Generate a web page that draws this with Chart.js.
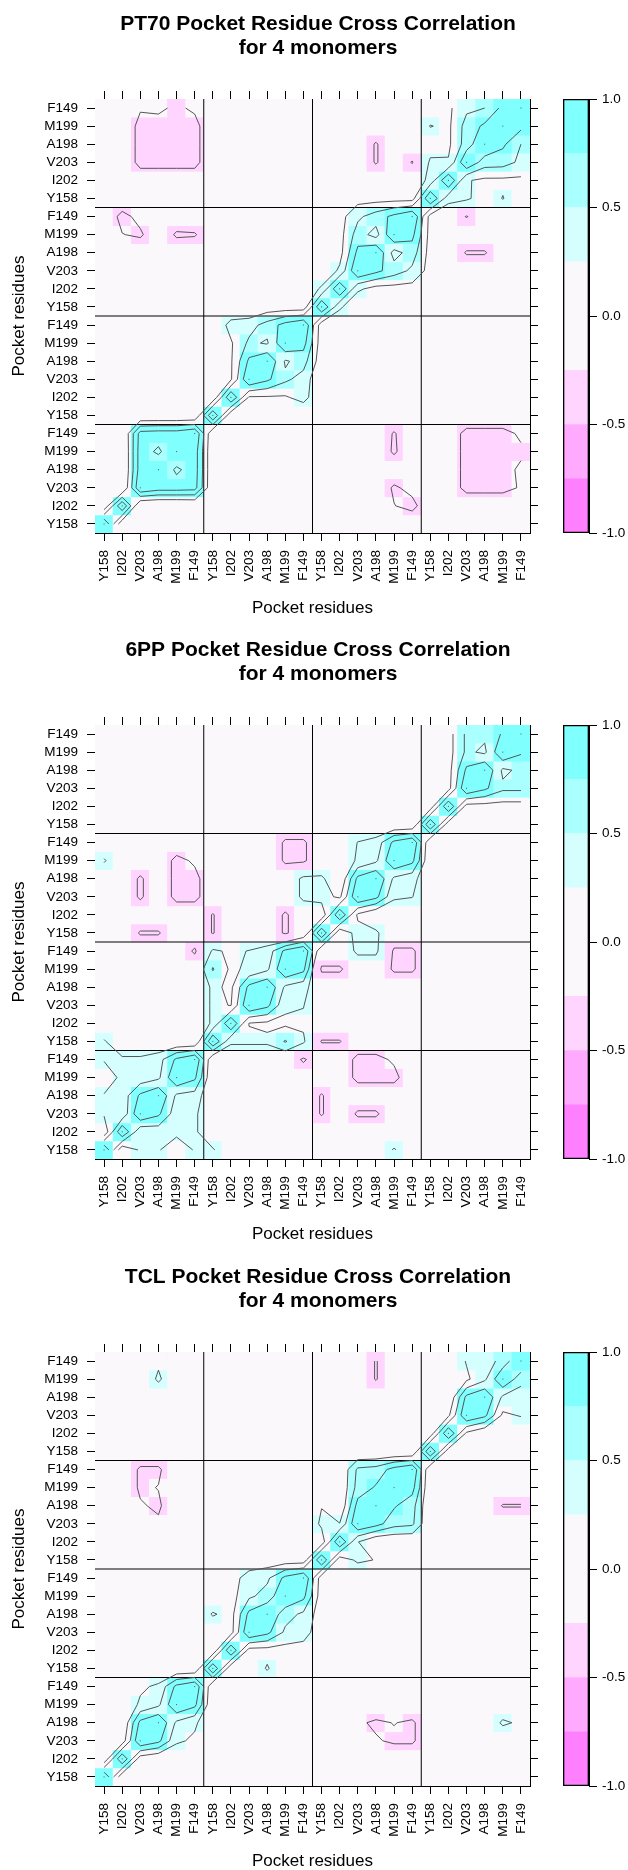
<!DOCTYPE html>
<html>
<head>
<meta charset="utf-8">
<title>Pocket Residue Cross Correlation</title>
<script src="https://cdn.jsdelivr.net/npm/chart.js"></script>
<style>
  body { margin: 0; overflow: hidden; background: #fff; }
  #wrap { position: relative; width: 628px; height: 1870px; overflow: hidden; }
  canvas { position: absolute; }
</style>
</head>
<body>
<div id="wrap"></div>
<script>
// tick labels, 6 pocket residues x 4 monomers (bottom->top, left->right)
const residueLabels = [
    'Y158', 'I202', 'V203', 'A198', 'M199', 'F149',
    'Y158', 'I202', 'V203', 'A198', 'M199', 'F149',
    'Y158', 'I202', 'V203', 'A198', 'M199', 'F149',
    'Y158', 'I202', 'V203', 'A198', 'M199', 'F149'
];
const blockEdges = [5.5, 11.5, 17.5];

// colour key
const keyBreaks = [-1, -0.75, -0.5, -0.25, 0.25, 0.5, 0.75, 1];
const keyColors = ['#FF80FF', '#FFAAFF', '#FFD5FF', '#FBF8FC', '#D5FFFF', '#AAFFFF', '#80FFFF'];
const keyTicks = [-1, -0.5, 0, 0.5, 1];
const contourLevels = [-0.75, -0.5, -0.25, 0.25, 0.5, 0.75];

// correlation: [row, col, value] for row < col.
// diagonal is 1, pairs not listed sit in the white band (~0)
const pt70Pairs = [
    [0,1,0.05],
    [1,2,-0.05],[1,3,-0.08],[1,4,-0.08],[1,5,-0.05],
    [2,3,0.88],[2,4,0.88],[2,5,0.85],[3,4,0.7],[3,5,0.88],[4,5,0.88],
    [1,16,-0.24],[1,17,-0.35],[2,16,-0.3],[2,17,-0.15],[4,16,-0.3],[5,16,-0.28],
    [2,19,-0.05],[3,19,-0.05],[4,19,-0.05],[5,19,-0.05],
    [2,20,-0.35],[2,21,-0.35],[2,22,-0.35],[2,23,-0.22],
    [3,20,-0.35],[3,21,-0.35],[3,22,-0.35],[3,23,-0.2],
    [4,20,-0.35],[4,21,-0.35],[4,22,-0.35],[4,23,-0.3],
    [5,20,-0.35],[5,21,-0.35],[5,22,-0.35],[5,23,-0.2],
    [6,7,0.05],
    [7,8,0.22],[7,9,0.22],[7,10,0.22],[7,11,0.35],
    [8,9,0.8],[8,10,0.55],[8,11,0.4],[9,10,0.47],[9,11,0.6],[10,11,0.85],
    [9,12,0.1],[10,12,0.1],[11,12,0.1],
    [12,13,0.3],[13,14,0.3],[13,15,0.15],[13,16,0.15],[13,17,0.15],
    [14,15,0.82],[14,16,0.62],[14,17,0.45],[15,16,0.4],[15,17,0.62],[16,17,0.82],
    [14,18,0.15],[15,18,0.15],[16,18,0.15],[17,18,0.15],
    [15,20,-0.28],[15,21,-0.28],[17,20,-0.27],
    [18,19,0.35],[18,20,0.3],[18,21,0.1],[18,22,0.26],[18,23,0.1],
    [19,20,0.27],[19,21,0.2],[19,22,0.2],[19,23,0.2],
    [20,21,0.62],[20,22,0.6],[20,23,0.45],
    [21,22,0.8],[21,23,0.5],[22,23,0.82]
];

const pp6Pairs = [
    [0,1,0.05],[0,2,0.28],[0,3,0.28],[0,5,0.28],[0,6,0.28],[0,16,0.28],
    [1,2,0.3],[1,3,0.35],[1,4,0.35],[1,5,0.3],
    [2,3,0.8],[2,4,0.35],[2,5,0.3],[3,4,0.45],[3,5,0.4],[4,5,0.8],
    [2,12,-0.28],[3,12,-0.28],[2,14,-0.3],[2,15,-0.3],
    [4,14,-0.35],[4,15,-0.35],[4,16,-0.35],[5,14,-0.35],[5,15,-0.35],[5,16,-0.2],
    [5,11,-0.3],
    [6,7,0.3],[6,8,0.3],[6,9,0.3],[6,10,0.52],[6,11,0.3],
    [7,8,0.24],[7,9,0.2],[7,10,0.2],[7,11,0.2],
    [8,9,0.82],[8,10,0.3],[8,11,0.26],[9,10,0.45],[9,11,0.35],[10,11,0.82],
    [6,12,-0.27],[6,13,-0.27],[10,12,-0.3],[10,13,-0.3],
    [10,16,-0.3],[10,17,-0.3],[11,16,-0.3],[11,17,-0.3],
    [11,14,0.32],[11,15,0.32],
    [12,13,0.05],[12,14,0.35],[12,15,0.3],[13,14,0.2],
    [14,15,0.82],[14,16,0.3],[14,17,0.26],[15,16,0.45],[15,17,0.35],[16,17,0.82],
    [18,19,0.1],[19,20,0.15],[19,21,0.15],[19,22,0.15],[19,23,0.15],
    [20,21,0.8],[20,22,0.55],[20,23,0.55],[21,22,0.45],[21,23,0.55],[22,23,0.78]
];

const tclPairs = [
    [0,1,0.05],[1,2,0.1],
    [2,3,0.82],[2,4,0.3],[2,5,0.2],[3,4,0.45],[3,5,0.3],[4,5,0.82],
    [2,15,-0.22],[2,16,-0.3],[2,17,-0.3],[3,14,-0.2],[3,15,-0.3],[3,16,-0.24],[3,17,-0.3],
    [3,22,0.3],[3,23,0.2],
    [6,7,0.05],[6,9,0.28],
    [7,8,0.15],[7,9,0.15],[7,10,0.15],[7,11,0.15],
    [8,9,0.82],[8,10,0.45],[8,11,0.35],[9,10,0.6],[9,11,0.45],[10,11,0.82],
    [8,12,0.1],[9,12,0.1],[10,12,0.1],[11,12,0.1],
    [12,13,0.1],[12,14,0.3],[12,15,0.24],[13,14,0.26],
    [14,15,0.85],[14,16,0.6],[14,17,0.55],[15,16,0.78],[15,17,0.6],[16,17,0.85],
    [15,22,-0.27],[15,23,-0.27],
    [18,19,0.1],[19,20,0.2],
    [20,21,0.82],[20,22,0.2],[20,23,0.27],[21,22,0.45],[21,23,0.35],[22,23,0.6]
];

const panels = [
    { title: ['PT70 Pocket Residue Cross Correlation', 'for 4 monomers'], pairs: pt70Pairs, top: 0 },
    { title: ['6PP Pocket Residue Cross Correlation', 'for 4 monomers'], pairs: pp6Pairs, top: 626 },
    { title: ['TCL Pocket Residue Cross Correlation', 'for 4 monomers'], pairs: tclPairs, top: 1253 }
];

Chart.defaults.font.family = "'Liberation Sans', Arial, Helvetica, sans-serif";
Chart.defaults.color = '#000';

// symmetric matrix from the listed pairs
function buildMatrix(pairs) {
    const n = residueLabels.length;
    const m = [];
    for (let i = 0; i < n; i++) {
        m.push(residueLabels.map((_, j) => (i === j ? 1 : 0)));
    }
    pairs.forEach(([i, j, v]) => { m[i][j] = v; m[j][i] = v; });
    return m;
}

function colorFor(v) {
    for (let k = 0; k < keyColors.length; k++) {
        if (v < keyBreaks[k + 1]) return keyColors[k];
    }
    return keyColors[keyColors.length - 1];
}

// marching squares over the cell centres, drawn through the chart scales
const contourPlugin = {
    id: 'contours',
    afterDatasetsDraw(chart, args, opts) {
        const m = opts.matrix;
        if (!m) return;
        const { ctx, chartArea, scales } = chart;
        const xs = scales.x, ys = scales.y;
        const n = m.length;
        ctx.save();
        ctx.beginPath();
        ctx.rect(chartArea.left, chartArea.top, chartArea.width, chartArea.height);
        ctx.clip();
        ctx.strokeStyle = '#555';
        ctx.fillStyle = '#555';
        ctx.lineWidth = 1;
        contourLevels.forEach(lev => {
            ctx.beginPath();
            for (let j = 0; j < n - 1; j++) {
                for (let i = 0; i < n - 1; i++) {
                    const a = m[j][i], b = m[j][i + 1], c = m[j + 1][i + 1], d = m[j + 1][i];
                    const code = (a > lev ? 1 : 0) | (b > lev ? 2 : 0) | (c > lev ? 4 : 0) | (d > lev ? 8 : 0);
                    if (code === 0 || code === 15) continue;
                    const edge = e => {
                        let px, py;
                        if (e === 0) { px = i + (lev - a) / (b - a); py = j; }
                        else if (e === 1) { px = i + 1; py = j + (lev - b) / (c - b); }
                        else if (e === 2) { px = i + (lev - d) / (c - d); py = j + 1; }
                        else { px = i; py = j + (lev - a) / (d - a); }
                        return [xs.getPixelForValue(px), ys.getPixelForValue(py)];
                    };
                    const seg = (e1, e2) => {
                        const p = edge(e1), q = edge(e2);
                        ctx.moveTo(p[0], p[1]);
                        ctx.lineTo(q[0], q[1]);
                    };
                    const mid = (a + b + c + d) / 4;
                    switch (code) {
                        case 1: case 14: seg(3, 0); break;
                        case 2: case 13: seg(0, 1); break;
                        case 3: case 12: seg(3, 1); break;
                        case 4: case 11: seg(1, 2); break;
                        case 6: case 9: seg(0, 2); break;
                        case 7: case 8: seg(3, 2); break;
                        case 5:
                            if (mid > lev) { seg(0, 1); seg(2, 3); } else { seg(3, 0); seg(1, 2); }
                            break;
                        case 10:
                            if (mid > lev) { seg(3, 0); seg(1, 2); } else { seg(0, 1); seg(2, 3); }
                            break;
                    }
                }
            }
            ctx.stroke();
        });
        // the top level (1.0) shrinks to a point on the cells that reach it
        const top = keyBreaks[keyBreaks.length - 1];
        m.forEach((row, j) => row.forEach((v, i) => {
            if (v >= top) {
                ctx.fillRect(xs.getPixelForValue(i) - 0.5, ys.getPixelForValue(j) - 0.5, 1, 1);
            }
        }));
        ctx.restore();
    }
};

const tickGrid = { drawOnChartArea: false, drawTicks: true, tickLength: 8, color: '#000', lineWidth: 1 };
const blackBorder = { display: true, color: '#000', width: 1 };

function fixedTicks(scale) {
    scale.ticks = residueLabels.map((_, i) => ({ value: i }));
}

function drawPanel(panel) {
    const wrap = document.getElementById('wrap');
    const matrix = buildMatrix(panel.pairs);

    const canvas = document.createElement('canvas');
    canvas.width = 628;
    canvas.height = 626;
    canvas.style.left = '0px';
    canvas.style.top = panel.top + 'px';
    wrap.appendChild(canvas);

    const cells = [];
    matrix.forEach((row, i) => row.forEach((v, j) => cells.push({ x: j, y: i, v: v })));

    const lineSets = [];
    blockEdges.forEach(e => {
        lineSets.push([{ x: e, y: -0.5 }, { x: e, y: 23.5 }]);
        lineSets.push([{ x: -0.5, y: e }, { x: 23.5, y: e }]);
    });

    new Chart(canvas, {
        type: 'scatter',
        data: {
            datasets: lineSets.map(pts => ({
                data: pts,
                showLine: true,
                borderColor: '#000',
                borderWidth: 1,
                pointRadius: 0
            })).concat([{
                data: cells,
                pointStyle: 'rect',
                pointBorderWidth: 0,
                clip: 0,
                pointRadius: ctx => {
                    const s = ctx.chart.scales.x;
                    return Math.abs(s.getPixelForValue(1) - s.getPixelForValue(0)) / Math.SQRT2 + 0.45;
                },
                pointBackgroundColor: ctx => colorFor(ctx.raw.v)
            }])
        },
        options: {
            responsive: false,
            animation: false,
            events: [],
            layout: { padding: { left: 8, right: 0, top: 0, bottom: 0 } },
            plugins: {
                legend: { display: false },
                tooltip: { enabled: false },
                title: {
                    display: true,
                    text: panel.title,
                    color: '#000',
                    font: { size: 21, weight: 'bold', lineHeight: 1.16 },
                    padding: { top: 12, bottom: 0 }
                },
                contours: { matrix: matrix }
            },
            scales: {
                x: {
                    type: 'linear', position: 'bottom', min: -0.5, max: 23.5,
                    afterBuildTicks: fixedTicks,
                    afterFit: s => { s.height = 93; },
                    ticks: {
                        autoSkip: false, minRotation: 90, maxRotation: 90, padding: 9,
                        font: { size: 13.5 },
                        callback: v => residueLabels[v]
                    },
                    grid: tickGrid,
                    border: blackBorder,
                    title: { display: true, text: 'Pocket residues', font: { size: 17 }, padding: { top: 0, bottom: 7.8 } }
                },
                x2: {
                    type: 'linear', position: 'top', min: -0.5, max: 23.5,
                    afterBuildTicks: fixedTicks,
                    afterFit: s => { s.height = 38.28; },
                    ticks: { display: false },
                    grid: tickGrid,
                    border: blackBorder
                },
                y: {
                    type: 'linear', position: 'left', min: -0.5, max: 23.5,
                    afterBuildTicks: fixedTicks,
                    afterFit: s => { s.width = 87; },
                    ticks: { autoSkip: false, padding: 9, font: { size: 13.5 }, callback: v => residueLabels[v] },
                    grid: tickGrid,
                    border: blackBorder,
                    title: { display: true, text: 'Pocket residues', font: { size: 17 }, padding: { top: 0.8, bottom: 0 } }
                },
                y2: {
                    type: 'linear', position: 'right', min: -0.5, max: 23.5,
                    afterBuildTicks: fixedTicks,
                    afterFit: s => { s.width = 98; },
                    ticks: { display: false },
                    grid: tickGrid,
                    border: blackBorder
                }
            }
        },
        plugins: [contourPlugin]
    });

    // colour key on its own canvas
    const key = document.createElement('canvas');
    key.width = 88;
    key.height = 626;
    key.style.left = '540px';
    key.style.top = panel.top + 'px';
    wrap.appendChild(key);

    const bands = keyColors.map((c, k) => ({
        data: [[keyBreaks[k], keyBreaks[k + 1]]],
        backgroundColor: c,
        borderWidth: 0,
        grouped: false,
        barPercentage: 1,
        categoryPercentage: 1
    }));

    new Chart(key, {
        type: 'bar',
        data: {
            labels: [''],
            datasets: [{
                data: [[keyBreaks[0], keyBreaks[keyBreaks.length - 1]]],
                backgroundColor: 'rgba(0,0,0,0)',
                borderColor: '#000',
                borderWidth: 1,
                borderSkipped: false,
                grouped: false,
                barPercentage: 1,
                categoryPercentage: 1
            }].concat(bands)
        },
        options: {
            responsive: false,
            animation: false,
            events: [],
            layout: { padding: { left: 23, right: 0, top: 99, bottom: 93 } },
            plugins: { legend: { display: false }, tooltip: { enabled: false } },
            scales: {
                x: { display: false },
                y: {
                    position: 'right', min: -1, max: 1,
                    afterBuildTicks: s => { s.ticks = keyTicks.map(v => ({ value: v })); },
                    afterFit: s => { s.width = 39; },
                    ticks: { padding: 5, font: { size: 13.5 }, callback: v => v.toFixed(1) },
                    grid: tickGrid,
                    border: blackBorder
                }
            }
        }
    });
}

panels.forEach(drawPanel);
</script>
</body>
</html>
